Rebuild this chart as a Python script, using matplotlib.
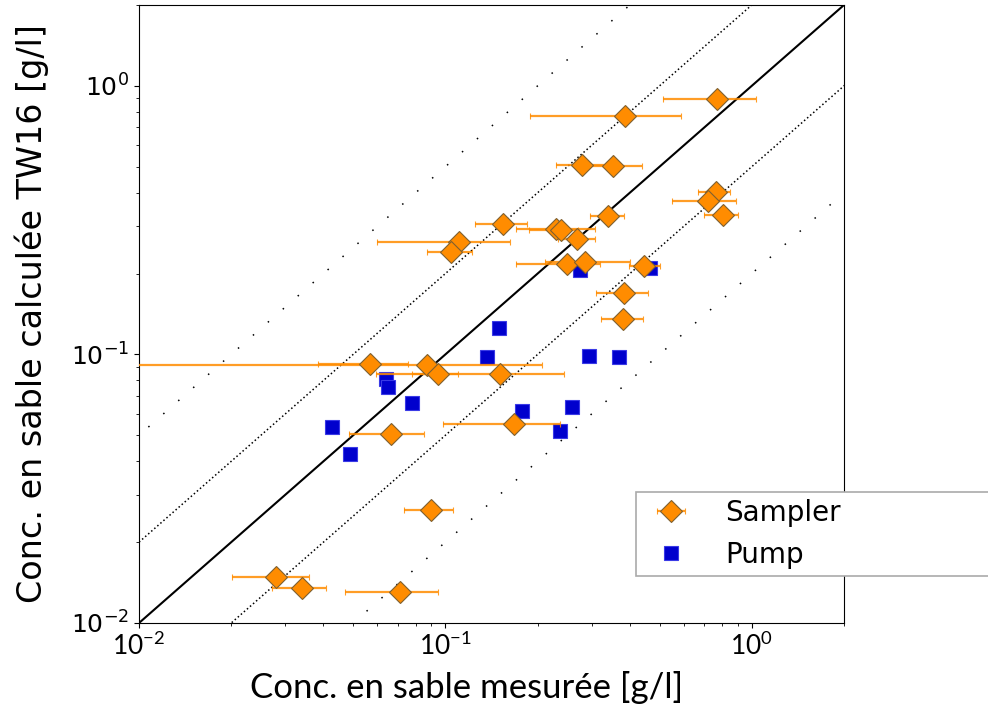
import numpy as np
import matplotlib
matplotlib.use("Agg")
import matplotlib.pyplot as plt
from matplotlib.ticker import NullFormatter

plt.rcParams['font.family'] = ['DejaVu Sans']
plt.rcParams['mathtext.fontset'] = 'custom'
plt.rcParams['mathtext.rm'] = 'Lato'
plt.rcParams['mathtext.it'] = 'Lato:italic'
plt.rcParams['mathtext.bf'] = 'Lato:bold'
plt.rcParams['mathtext.sf'] = 'DejaVu Sans'

# ---------------- data ----------------
sampler_x = [0.770, 0.387, 0.280, 0.352, 0.763, 0.717, 0.803, 0.340, 0.154, 0.230,
             0.239, 0.268, 0.111, 0.104, 0.2485, 0.286, 0.446, 0.382, 0.380, 0.0567,
             0.0872, 0.0943, 0.151, 0.0667, 0.168, 0.0895, 0.0279, 0.0340, 0.0710]
sampler_y = [0.892, 0.769, 0.508, 0.504, 0.404, 0.373, 0.331, 0.328, 0.306, 0.293,
             0.290, 0.268, 0.263, 0.2415, 0.217, 0.220, 0.214, 0.169, 0.135, 0.0922,
             0.0914, 0.0844, 0.0844, 0.0505, 0.0551, 0.0263, 0.0148, 0.0135, 0.0130]
sampler_xlo = [0.514, 0.189, 0.229, 0.285, 0.666, 0.548, 0.697, 0.297, 0.125, 0.170,
               0.188, 0.233, 0.060, 0.087, 0.170, 0.211, 0.397, 0.309, 0.321, 0.0384,
               0.004, 0.0593, 0.0778, 0.0485, 0.098, 0.0734, 0.0201, 0.0271, 0.0472]
sampler_xhi = [1.031, 0.587, 0.349, 0.439, 0.848, 0.885, 0.905, 0.384, 0.185, 0.308,
               0.271, 0.308, 0.162, 0.122, 0.319, 0.401, 0.501, 0.457, 0.440, 0.0755,
               0.206, 0.110, 0.244, 0.0853, 0.236, 0.106, 0.0359, 0.0407, 0.0947]

pump_x = [0.0428, 0.0488, 0.0638, 0.0648, 0.0776, 0.1363, 0.1498, 0.1773, 0.2369, 0.2587,
          0.2939, 0.369, 0.2747, 0.4648]
pump_y = [0.0536, 0.0426, 0.0809, 0.0755, 0.0658, 0.0977, 0.1259, 0.0618, 0.0520, 0.0639,
          0.0983, 0.0975, 0.2064, 0.2094]

ratio_dense = [1, 2, 0.5]
ratio_sparse = [5, 0.2]

xtick_vals = [0.01, 0.1, 1]
xtick_labels = [r'$\mathrm{10^{-2}}$', r'$\mathrm{10^{-1}}$', r'$\mathrm{10^{0}}$']
ytick_vals = [0.01, 0.1, 1]
ytick_labels = [r'$\mathsf{10^{-2}}$', r'$\mathsf{10^{-1}}$', r'$\mathsf{10^{0}}$']

xlabel = "Conc. en sable mesurée [g/l]"
ylabel = "Conc. en sable calculée TW16 [g/l]"

# ---------------- figure ----------------
W, H = 988, 715
fig = plt.figure(figsize=(W / 100, H / 100), dpi=100)
ax = fig.add_axes([139 / W, 1 - 623 / H, 705 / W, 618 / H])
ax.set_xscale('log')
ax.set_yscale('log')

ref = np.array([1e-3, 10.0])
for r in ratio_dense:
    if r == 1:
        ax.plot(ref, ref * r, color='black', lw=1.5, zorder=1)
    else:
        ax.plot(ref, ref * r, color='black', lw=1.1, ls=':', zorder=1)
for r in ratio_sparse:
    ax.plot(ref, ref * r, color='black', lw=1.1, ls=(0, (1, 12)), zorder=1)

ax.plot(pump_x, pump_y, ls='none', marker='s', ms=10, color='#0000CD',
        mec='#3a3ae6', mew=0.8, zorder=2, label='Pump')

sx = np.array(sampler_x)
xerr = np.array([sx - np.array(sampler_xlo), np.array(sampler_xhi) - sx])
ax.errorbar(sx, sampler_y, xerr=xerr, ls='none', marker='D', ms=11,
            mfc='#ff8c00', mec='#7f6030', mew=0.8,
            ecolor=(1.0, 0.55, 0.0, 0.85), elinewidth=1.6, capsize=2.5,
            capthick=1.2, zorder=3, label='Sampler')

ax.set_xlim(0.01, 2)
ax.set_ylim(0.01, 2)

ax.set_xticks(xtick_vals)
ax.set_xticklabels(xtick_labels, fontsize=19)
ax.set_yticks(ytick_vals)
ax.set_yticklabels(ytick_labels, fontsize=18)
ax.xaxis.set_minor_formatter(NullFormatter())
ax.yaxis.set_minor_formatter(NullFormatter())

ax.set_xlabel(xlabel, fontsize=25, family='Lato')
ax.xaxis.set_label_coords(0.465, -0.078)
ax.set_ylabel(ylabel, fontsize=24)
ax.yaxis.set_label_coords(-0.127, 0.5)

handles, labels = ax.get_legend_handles_labels()
order = [labels.index('Sampler'), labels.index('Pump')]
leg_h = 82 / H
leg = fig.legend([handles[i] for i in order], [labels[i] for i in order],
                 loc='upper left',
                 bbox_to_anchor=(636 / W, 1 - 492 / H - leg_h, (1010 - 636) / W, leg_h),
                 bbox_transform=fig.transFigure, borderaxespad=0, mode='expand',
                 borderpad=0.25, handletextpad=0.95, fontsize=20, fancybox=False,
                 framealpha=1, edgecolor='#aaaaaa')
leg.get_frame().set_linewidth(1.2)

fig.savefig('out.png', dpi=100)
